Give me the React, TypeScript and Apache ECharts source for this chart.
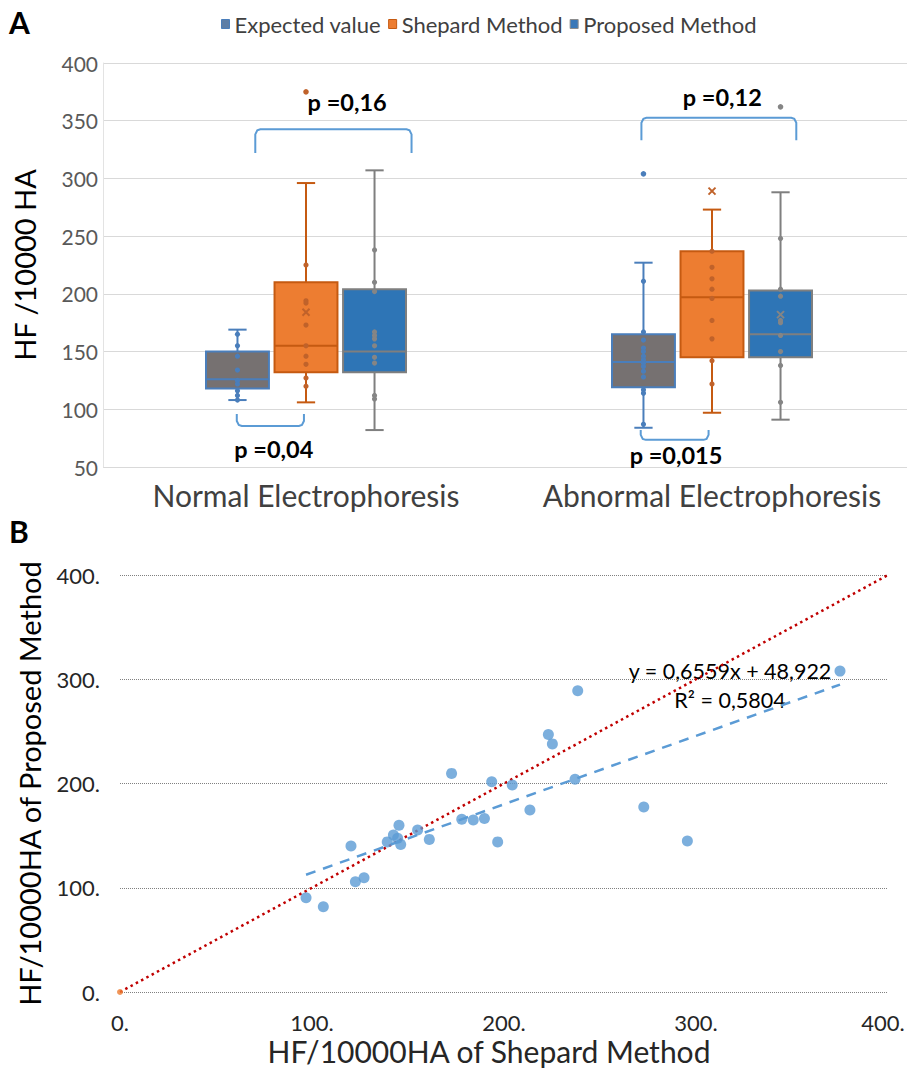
import React, { useEffect, useRef } from "react";
import * as echarts from "echarts";

// ---------- Panel A data ----------
const categories = ["Normal Electrophoresis", "Abnormal Electrophoresis"];
const methods = ["Expected value", "Shepard Method", "Proposed Method"];
const yTicksA = [50, 400, 50]; // min, max, interval

// [min, Q1, median, Q3, max] for each category
const expectedBox = [
  [108, 118, 126, 150, 169],
  [84, 119, 141, 165, 227],
];
const shepardBox = [
  [106, 132, 155, 210, 296],
  [97, 145, 197, 237, 273],
];
const proposedBox = [
  [82, 132, 150, 204, 307],
  [91, 145, 165, 203, 288],
];

// individual values drawn as small dots
const expectedPoints = [
  [165, 155, 146, 134, 125, 122, 116, 112, 108],
  [211, 167, 160, 153, 150, 146, 143, 140, 137, 133, 128, 117, 114, 87],
];
const shepardPoints = [
  [225, 194, 192, 173, 155, 146, 139, 127, 120],
  [237, 223, 213, 204, 196, 177, 161, 142, 122],
];
const proposedPoints = [
  [238, 210, 202, 167, 164, 161, 155, 145, 140, 112, 109],
  [248, 204, 198, 177, 175, 164, 150, 138, 106],
];
const expectedOutliers = [[], [304]];
const shepardOutliers = [[375], []];
const proposedOutliers = [[], [362]];
// "x" markers
const expectedCross = [[], []];
const shepardCross = [[184], [289]];
const proposedCross = [[], [182]];

// p-value brackets: category, from slot, to slot, line value, leg end value, label value, label text
const bracketCat = [0, 0, 1, 1];
const bracketFrom = [-0.74, -1.01, -1.03, -1.04];
const bracketTo = [1.54, -0.03, 1.23, -0.05];
const bracketLine = [342.5, 85.5, 352.5, 73.5];
const bracketLeg = [322, 96, 333, 82];
const bracketLabelY = [366, 65.5, 370.5, 60];
const bracketLabelShift = [0.2, 0.05, 0.05, 0.02];
const bracketText = ["p =0,16", "p =0,04", "p =0,12", "p =0,015"];

// ---------- Panel B data ----------
const shepardX = [
  238.4, 223.1, 225.2, 172.7, 193.6, 204.3, 237, 213.5, 178, 184, 189.8, 145.3,
  155, 142.4, 144.6, 139.2, 146.2, 161.1, 196.7, 120.3, 127.1, 122.6, 96.9,
  105.9, 375, 295.5, 272.8,
];
const proposedY = [
  288.9, 247, 238, 209.7, 201.6, 198.5, 204, 174.5, 165.6, 165, 166.5, 160,
  155.3, 150.5, 147.4, 144, 141.6, 146.4, 144, 140, 109.6, 105.8, 90.4, 81.8,
  307.8, 144.8, 177.4,
];
const xyTicksB = [0, 400, 100];
const trendSlope = 0.6559;
const trendIntercept = 48.922;
const identityLine = [
  [0, 0],
  [400, 400],
];

const SLOT = 0.1688; // box spacing as a fraction of the category band
const BOXW = 0.155;
const CAPW = 0.045;

const FONT = "Lato, 'Open Sans', sans-serif";

const boxStyles = [
  { fill: "#767171", stroke: "#4a7ebb", whisker: "#4a7ebb", dot: "#4a7ebb" },
  { fill: "#ed7d31", stroke: "#c55a11", whisker: "#c55a11", dot: "#c0622a" },
  { fill: "#2e75b6", stroke: "#7f7f7f", whisker: "#7f7f7f", dot: "#858585" },
];

function boxRender(slot: number, st: any) {
  return (params: any, api: any) => {
    const cat = api.value(0);
    const band = api.size([1, 0])[0];
    const cx = api.coord([cat, 0])[0] + slot * band * SLOT;
    const w = band * BOXW;
    const cap = band * CAPW;
    const y = (i: number) => api.coord([cat, api.value(i)])[1];
    const yMin = y(1), yQ1 = y(2), yMed = y(3), yQ3 = y(4), yMax = y(5);
    const ls = { stroke: st.whisker, lineWidth: 2 };
    return {
      type: "group",
      children: [
        { type: "line", shape: { x1: cx, y1: yMax, x2: cx, y2: yQ3 }, style: ls },
        { type: "line", shape: { x1: cx, y1: yQ1, x2: cx, y2: yMin }, style: ls },
        { type: "line", shape: { x1: cx - cap / 2, y1: yMax, x2: cx + cap / 2, y2: yMax }, style: ls },
        { type: "line", shape: { x1: cx - cap / 2, y1: yMin, x2: cx + cap / 2, y2: yMin }, style: ls },
        {
          type: "rect",
          shape: { x: cx - w / 2, y: yQ3, width: w, height: yQ1 - yQ3 },
          style: { fill: st.fill, stroke: st.stroke, lineWidth: 2 },
        },
        { type: "line", shape: { x1: cx - w / 2, y1: yMed, x2: cx + w / 2, y2: yMed }, style: { stroke: st.stroke, lineWidth: 2 } },
      ],
    };
  };
}

function dotRender(slot: number, color: string, r: number, kind: string) {
  return (params: any, api: any) => {
    const cat = api.value(0);
    const band = api.size([1, 0])[0];
    const p = api.coord([cat, api.value(1)]);
    const cx = p[0] + slot * band * SLOT;
    if (kind === "cross") {
      const s = 3.5;
      return {
        type: "group",
        children: [
          { type: "line", shape: { x1: cx - s, y1: p[1] - s, x2: cx + s, y2: p[1] + s }, style: { stroke: color, lineWidth: 2 } },
          { type: "line", shape: { x1: cx - s, y1: p[1] + s, x2: cx + s, y2: p[1] - s }, style: { stroke: color, lineWidth: 2 } },
        ],
      };
    }
    return { type: "circle", shape: { cx, cy: p[1], r }, style: { fill: color } };
  };
}

function flatten(arr: number[][]) {
  const out: number[][] = [];
  arr.forEach((vals, cat) => vals.forEach((v) => out.push([cat, v])));
  return out;
}

function boxData(arr: number[][]) {
  return arr.map((b, cat) => [cat, ...b]);
}

export default function App() {
  const ref = useRef<HTMLDivElement>(null);
  useEffect(() => {
    document.body.style.margin = "0";
    const chart = echarts.init(ref.current!, null, { renderer: "svg" });

    const boxes = [expectedBox, shepardBox, proposedBox];
    const points = [expectedPoints, shepardPoints, proposedPoints];
    const outl = [expectedOutliers, shepardOutliers, proposedOutliers];
    const cross = [expectedCross, shepardCross, proposedCross];

    const series: any[] = [];
    methods.forEach((m, i) => {
      series.push({
        name: m,
        type: "custom",
        xAxisIndex: 0,
        yAxisIndex: 0,
        renderItem: boxRender(i - 1, boxStyles[i]),
        data: boxData(boxes[i]),
        encode: { x: 0, y: [1, 2, 3, 4, 5] },
        itemStyle: { color: boxStyles[i].fill },
        z: 2,
      });
    });
    methods.forEach((m, i) => {
      series.push({
        type: "custom",
        xAxisIndex: 0,
        yAxisIndex: 0,
        renderItem: dotRender(i - 1, boxStyles[i].dot, 2.6, "dot"),
        data: flatten(points[i]),
        encode: { x: 0, y: 1 },
        z: 3,
      });
      series.push({
        type: "custom",
        xAxisIndex: 0,
        yAxisIndex: 0,
        renderItem: dotRender(i - 1, boxStyles[i].dot, 2.8, "dot"),
        data: flatten(outl[i]),
        encode: { x: 0, y: 1 },
        z: 3,
      });
      series.push({
        type: "custom",
        xAxisIndex: 0,
        yAxisIndex: 0,
        renderItem: dotRender(i - 1, boxStyles[i].dot, 0, "cross"),
        data: flatten(cross[i]),
        encode: { x: 0, y: 1 },
        z: 3,
      });
    });

    // brackets
    series.push({
      type: "custom",
      xAxisIndex: 0,
      yAxisIndex: 0,
      z: 4,
      data: bracketCat.map((c, i) => [c, bracketLine[i]]),
      encode: { x: 0, y: 1 },
      renderItem: (params: any, api: any) => {
        const i = params.dataIndex;
        const cat = bracketCat[i];
        const band = api.size([1, 0])[0];
        const c0 = api.coord([cat, bracketLine[i]]);
        const x1 = c0[0] + bracketFrom[i] * band * SLOT;
        const x2 = c0[0] + bracketTo[i] * band * SLOT;
        const yl = c0[1];
        const yg = api.coord([cat, bracketLeg[i]])[1];
        const ly = api.coord([cat, bracketLabelY[i]])[1];
        const lx = (x1 + x2) / 2 + bracketLabelShift[i] * band * SLOT;
        const up = yg > yl;
        const r = 5;
        const dir = up ? 1 : -1;
        return {
          type: "group",
          children: [
            {
              type: "polyline",
              shape: {
                points: [
                  [x1, yg],
                  [x1, yl + dir * r],
                  [x1 + r * 0.4, yl + dir * r * 0.2],
                  [x1 + r, yl],
                  [x2 - r, yl],
                  [x2 - r * 0.4, yl + dir * r * 0.2],
                  [x2, yl + dir * r],
                  [x2, yg],
                ],
              },
              style: { stroke: "#5b9bd5", lineWidth: 2, fill: null },
            },
            {
              type: "text",
              x: lx,
              y: ly,
              style: {
                text: bracketText[i],
                fontFamily: FONT,
                fontWeight: "bold",
                fontSize: 23.5,
                fill: "#000000",
                align: "center",
                verticalAlign: "middle",
              },
            },
          ],
        };
      },
    });

    // Panel B
    const scatterData = shepardX.map((x, i) => [x, proposedY[i]]);
    const xMinT = Math.min(...shepardX);
    const xMaxT = Math.max(...shepardX);
    series.push({
      type: "line",
      xAxisIndex: 1,
      yAxisIndex: 1,
      data: identityLine,
      showSymbol: false,
      lineStyle: { color: "#c00000", width: 2.5, type: [2.5, 3.5] },
      z: 2,
    });
    series.push({
      type: "scatter",
      xAxisIndex: 1,
      yAxisIndex: 1,
      data: [identityLine[0]],
      symbolSize: 6,
      itemStyle: { color: "#ed7d31" },
      z: 3,
    });
    series.push({
      type: "line",
      xAxisIndex: 1,
      yAxisIndex: 1,
      data: [
        [xMinT, trendSlope * xMinT + trendIntercept],
        [xMaxT, trendSlope * xMaxT + trendIntercept],
      ],
      showSymbol: false,
      lineStyle: { color: "#5b9bd5", width: 2.5, type: [10, 8] },
      z: 2,
    });
    series.push({
      type: "scatter",
      xAxisIndex: 1,
      yAxisIndex: 1,
      data: scatterData,
      symbolSize: 11,
      itemStyle: { color: "#5b9bd5" },
      z: 4,
    });

    chart.setOption({
      animation: false,
      backgroundColor: "#ffffff",
      textStyle: { fontFamily: FONT },
      legend: {
        top: 8,
        left: 216,
        icon: "rect",
        itemWidth: 8,
        itemHeight: 9,
        itemGap: 7,
        itemTextGap: 4,
        textStyle: { fontSize: 22, color: "#404040", fontFamily: FONT },
        data: methods.map((m, i) => ({
          name: m,
          itemStyle:
            i === 0
              ? { color: "#5d7ea6", borderColor: "#4a7ebb", borderWidth: 1 }
              : i === 1
              ? { color: "#ed7d31", borderColor: "#c55a11", borderWidth: 1 }
              : { color: "#3a78b8", borderColor: "#8c8c8c", borderWidth: 1 },
        })),
      },
      grid: [
        { left: 103, top: 63, width: 812, height: 404, outerBoundsMode: "none" },
        { left: 120, top: 575, width: 768, height: 417, outerBoundsMode: "none" },
      ],
      xAxis: [
        {
          type: "category",
          gridIndex: 0,
          data: categories,
          axisTick: { show: false },
          axisLine: { show: false },
          axisLabel: { fontSize: 30, color: "#404040", margin: 13, interval: 0, hideOverlap: false, fontFamily: FONT },
        },
        {
          type: "value",
          gridIndex: 1,
          min: xyTicksB[0],
          max: xyTicksB[1],
          interval: xyTicksB[2],
          splitLine: { show: false },
          axisLine: { show: false },
          axisTick: { show: false },
          axisLabel: {
            fontSize: 22,
            color: "#262626",
            margin: 19,
            fontFamily: FONT,
            formatter: (v: number) => (v === xyTicksB[1] ? `{m|${v}.}` : `${v}.`),
            rich: { m: { fontSize: 22, color: "#262626", fontFamily: FONT, padding: [0, 10, 0, 0] } },
          },
          name: "HF/10000HA of Shepard Method",
          nameLocation: "middle",
          nameGap: 44,
          nameMoveOverlap: false,
          nameTextStyle: { fontSize: 30, color: "#262626", fontFamily: FONT, padding: [0, 30, 0, 0] },
        },
      ],
      yAxis: [
        {
          type: "value",
          gridIndex: 0,
          min: yTicksA[0],
          max: yTicksA[1],
          interval: yTicksA[2],
          splitLine: { lineStyle: { color: "#d9d9d9", width: 1 } },
          axisLine: { show: true, lineStyle: { color: "#e3e3e3", width: 1 } },
          axisTick: { show: false },
          axisLabel: { fontSize: 21, color: "#595959", margin: 5, fontFamily: FONT },
          name: "HF /10000 HA",
          nameLocation: "middle",
          nameGap: 64,
          nameMoveOverlap: false,
          nameTextStyle: { fontSize: 29, color: "#000000", fontFamily: FONT },
        },
        {
          type: "value",
          gridIndex: 1,
          min: xyTicksB[0],
          max: xyTicksB[1],
          interval: xyTicksB[2],
          splitLine: { lineStyle: { color: "#808080", width: 1, type: [1, 1] } },
          axisLine: { show: false },
          axisTick: { show: false },
          axisLabel: { fontSize: 22, color: "#262626", margin: 20, formatter: (v: number) => v + ".", fontFamily: FONT },
          name: "HF/10000HA of Proposed Method",
          nameLocation: "middle",
          nameGap: 76,
          nameMoveOverlap: false,
          nameTextStyle: { fontSize: 29, color: "#000000", fontFamily: FONT },
        },
      ],
      graphic: [
        {
          type: "text",
          left: 9,
          top: 7,
          style: { text: "A", fontSize: 30, fontWeight: "bold", fill: "#000", fontFamily: FONT },
        },
        {
          type: "text",
          left: 9,
          top: 516,
          style: { text: "B", fontSize: 30, fontWeight: "bold", fill: "#000", fontFamily: FONT },
        },
        {
          type: "text",
          x: 730,
          y: 671,
          style: {
            text: "y = 0,6559x + 48,922",
            fontSize: 21.5,
            fill: "#000",
            align: "center",
            verticalAlign: "middle",
            fontFamily: FONT,
          },
        },
        {
          type: "text",
          x: 730,
          y: 700,
          style: {
            text: "R² = 0,5804",
            fontSize: 21.5,
            fill: "#000",
            align: "center",
            verticalAlign: "middle",
            fontFamily: FONT,
          },
        },
      ],
      series,
    });
    return () => chart.dispose();
  }, []);
  return <div ref={ref} style={{ width: 907, height: 1071 }} />;
}
